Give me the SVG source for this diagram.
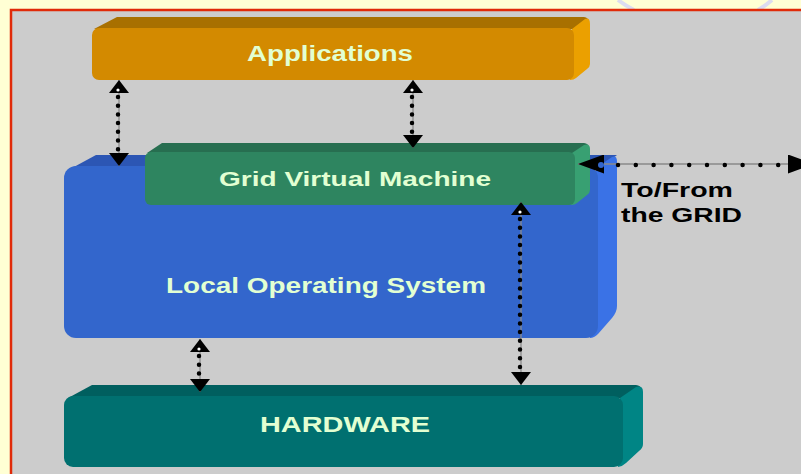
<svg xmlns="http://www.w3.org/2000/svg" width="801" height="474" viewBox="0 0 801 474">
<style>
.lbl{font-family:"Liberation Sans",Arial,sans-serif;font-weight:bold;fill:#E2FFD2;text-anchor:middle}
.note{font-family:"Liberation Sans",Arial,sans-serif;font-weight:bold;fill:#000}
.rail{stroke:#8a8a8a;stroke-width:1.3;fill:none}
.dots{stroke:#000;stroke-width:4.5;stroke-linecap:round;fill:none}
</style>
<defs>
<marker id="vh" viewBox="0 0 13 20" refX="13" refY="10" markerWidth="13" markerHeight="20" markerUnits="userSpaceOnUse" orient="auto-start-reverse">
<path d="M0,0 L13,10 L0,20 z" fill="#000"/>
</marker>
<marker id="hh" viewBox="0 0 26 19" refX="26" refY="9.5" markerWidth="26" markerHeight="19" markerUnits="userSpaceOnUse" orient="auto-start-reverse">
<path d="M0,0 L26,9.5 L0,19 z" fill="#000"/>
</marker>
</defs>
<rect width="801" height="474" fill="#FFFFD4"/>
<path d="M618,0 Q626,6 634,10 M772,0 Q765,6 758,10" stroke="#DCDCF0" stroke-width="4" fill="none"/>
<rect x="11" y="10" width="800" height="480" fill="#CCCCCC" stroke="#E02A08" stroke-width="2.5"/>

<g id="local-os">
<path d="M72,168 L96,155 L617,155 L600,168 z" fill="#2C56B4"/>
<path d="M596,168 L612,157 Q617,155 617,162 L617,306 Q617,312 612,318 L598,334 Q594,338 590,338 z" fill="#3A72E6"/>
<rect x="64" y="166" width="534" height="172" rx="12" fill="#3366CC"/>
<text class="lbl" x="326" y="293" font-size="22" textLength="320" lengthAdjust="spacingAndGlyphs">Local Operating System</text>
</g>

<g id="applications">
<path d="M94,29 L117,17 L584,17 Q590,18 588,24 L576,29 z" fill="#A87000"/>
<path d="M572,29 L585,19 Q590,17 590,24 L590,64 Q590,67 587,69 L576,78 Q574,80 570,80 z" fill="#EBA000"/>
<rect x="92" y="28" width="482" height="52" rx="7" fill="#D38A00"/>
<text class="lbl" x="330" y="61" font-size="22" textLength="166" lengthAdjust="spacingAndGlyphs">Applications</text>
</g>

<g id="grid-vm">
<path d="M147,153 L162,143 L584,143 Q590,144 588,149 L576,153 z" fill="#276E50"/>
<path d="M572,153 L584,145 Q590,143 590,149 L590,190 Q590,193 587,195 L577,203 Q575,205 571,205 z" fill="#38A072"/>
<rect x="145" y="152" width="430" height="53" rx="6" fill="#2E8560"/>
<text class="lbl" x="355" y="186" font-size="21" textLength="272" lengthAdjust="spacingAndGlyphs">Grid Virtual Machine</text>
</g>

<g id="hardware">
<path d="M68,398 L92,385 L636,385 Q643,386 640,392 L624,398 z" fill="#005F5F"/>
<path d="M620,398 L636,387 Q643,385 643,392 L643,444 Q643,448 639,451 L626,463 Q623,466 618,467 z" fill="#008585"/>
<rect x="64" y="396" width="559" height="71" rx="9" fill="#007070"/>
<text class="lbl" x="345" y="432" font-size="22" textLength="170" lengthAdjust="spacingAndGlyphs">HARDWARE</text>
</g>

<g id="grid-note">
<text class="note" x="621" y="197" font-size="21" textLength="112" lengthAdjust="spacingAndGlyphs">To/From</text>
<text class="note" x="621" y="222" font-size="21" textLength="121" lengthAdjust="spacingAndGlyphs">the GRID</text>
</g>

<g id="connectors">
<g id="app-os">
<path class="rail" d="M119,80 L119,166" marker-start="url(#vh)" marker-end="url(#vh)"/>
<path class="dots" d="M118,97 L118,150" stroke-dasharray="0 8.7"/>
<circle cx="118" cy="90" r="1.6" fill="#fff"/>
</g>
<g id="app-gvm">
<path class="rail" d="M413,80 L413,148" marker-start="url(#vh)" marker-end="url(#vh)"/>
<path class="dots" d="M412,97 L412,136" stroke-dasharray="0 8.7"/>
<circle cx="412" cy="90" r="1.6" fill="#fff"/>
</g>
<g id="gvm-hw">
<path class="rail" d="M521,202 L521,385" marker-start="url(#vh)" marker-end="url(#vh)"/>
<path class="dots" d="M520,219 L520,370" stroke-dasharray="0 8.7"/>
<circle cx="520" cy="212" r="1.6" fill="#fff"/>
</g>
<g id="os-hw">
<path class="rail" d="M200,339 L200,392" marker-start="url(#vh)" marker-end="url(#vh)"/>
<path class="dots" d="M199,356 L199,375" stroke-dasharray="0 8.7"/>
<circle cx="199" cy="349" r="1.6" fill="#fff"/>
</g>
<g id="gvm-grid">
<path class="rail" d="M578,164 L814,164" marker-start="url(#hh)" marker-end="url(#hh)"/>
<path class="dots" d="M618,165 L780,165" stroke-dasharray="0 17.8" stroke-width="7"/>
<circle cx="601" cy="165" r="3" fill="#3366CC"/>
</g>
</g>
</svg>
